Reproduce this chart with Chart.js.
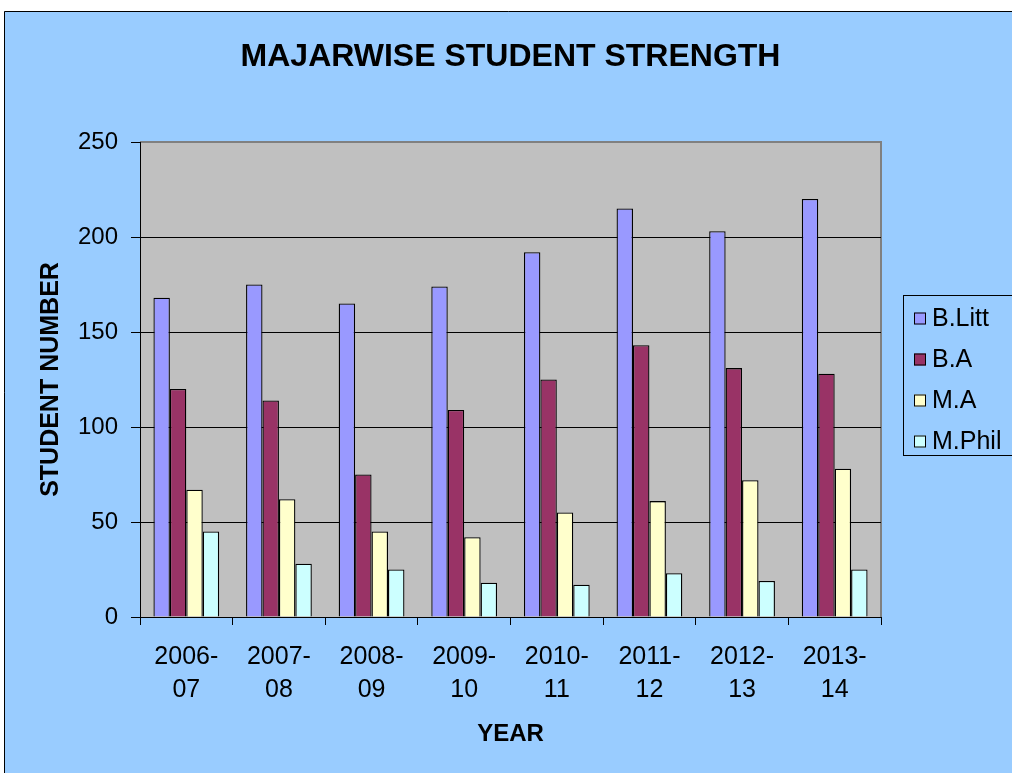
<!DOCTYPE html>
<html>
<head>
<meta charset="utf-8">
<script src="https://cdn.jsdelivr.net/npm/chart.js@4.4.1/dist/chart.umd.min.js"></script>
<style>
  html, body { margin: 0; padding: 0; background: #ffffff; }
  #wrap { width: 1012px; height: 773px; }
</style>
</head>
<body>
<div id="wrap"><canvas id="c" width="1012" height="773"></canvas></div>
<script>
const years = ['2006-07', '2007-08', '2008-09', '2009-10', '2010-11', '2011-12', '2012-13', '2013-14'];
const seriesNames = ['B.Litt', 'B.A', 'M.A', 'M.Phil'];
const bLitt = [168, 175, 165, 174, 192, 215, 203, 220];
const bA = [120, 114, 75, 109, 125, 143, 131, 128];
const mA = [67, 62, 45, 42, 55, 61, 72, 78];
const mPhil = [45, 28, 25, 18, 17, 23, 19, 25];
const yTicks = [0, 50, 100, 150, 200, 250];

const colors = ['#9999FF', '#993366', '#FFFFCC', '#CCFFFF'];
const FONT = "'Liberation Sans', Arial, sans-serif";

const bgPlugin = {
  id: 'bg',
  beforeDraw(chart) {
    const ctx = chart.ctx;
    const ca = chart.chartArea;
    ctx.save();
    ctx.fillStyle = '#ffffff';
    ctx.fillRect(0, 0, chart.width, chart.height);
    ctx.fillStyle = '#99CCFF';
    ctx.fillRect(4, 11, chart.width - 4, chart.height - 11);
    ctx.strokeStyle = '#000000';
    ctx.lineWidth = 1;
    ctx.beginPath();
    ctx.moveTo(4.5, chart.height);
    ctx.lineTo(4.5, 11.5);
    ctx.lineTo(chart.width, 11.5);
    ctx.stroke();
    ctx.fillStyle = '#C0C0C0';
    ctx.fillRect(ca.left, ca.top, ca.right - ca.left, ca.bottom - ca.top);
    ctx.strokeStyle = '#808080';
    ctx.lineWidth = 2;
    ctx.beginPath();
    ctx.moveTo(ca.left, ca.top);
    ctx.lineTo(ca.right, ca.top);
    ctx.lineTo(ca.right, ca.bottom);
    ctx.stroke();
    ctx.restore();
  }
};

const legendPlugin = {
  id: 'customLegend',
  afterDraw(chart) {
    const ctx = chart.ctx;
    ctx.save();
    ctx.strokeStyle = '#000000';
    ctx.lineWidth = 1;
    ctx.strokeRect(903.5, 295.5, 160, 160);
    ctx.font = '25px ' + FONT;
    ctx.textBaseline = 'middle';
    ctx.textAlign = 'left';
    chart.data.datasets.forEach((ds, i) => {
      const y = 318 + i * 41;
      ctx.fillStyle = ds.backgroundColor;
      ctx.fillRect(914, y - 5.5, 12, 12);
      ctx.strokeStyle = '#000000';
      ctx.strokeRect(914.5, y - 5, 11, 11);
      ctx.fillStyle = '#000000';
      ctx.fillText(ds.label, 932, y + 1);
    });
    ctx.restore();
  }
};

const seriesData = [bLitt, bA, mA, mPhil];

new Chart(document.getElementById('c'), {
  type: 'bar',
  data: {
    labels: years.map(y => { const p = y.split('-'); return [p[0] + '-', p[1]]; }),
    datasets: seriesNames.map((name, i) => ({
      label: name,
      data: seriesData[i],
      backgroundColor: colors[i],
      borderColor: '#000000',
      borderWidth: 1.3,
      categoryPercentage: 0.71,
      barPercentage: 1.0
    }))
  },
  options: {
    responsive: false,
    animation: false,
    layout: { padding: { left: 0, right: 131, top: 0, bottom: 0 } },
    plugins: {
      legend: { display: false },
      tooltip: { enabled: false },
      title: {
        display: true,
        text: 'MAJARWISE STUDENT STRENGTH',
        fullSize: false,
        color: '#000000',
        font: { family: FONT, size: 32, weight: 'bold' },
        padding: { top: 38, bottom: 65.6 }
      }
    },
    scales: {
      x: {
        offset: true,
        grid: { offset: true, drawOnChartArea: false, drawTicks: true, tickLength: 8, color: '#000000' },
        border: { color: '#000000', width: 1 },
        ticks: {
          color: '#000000',
          font: { family: FONT, size: 25, lineHeight: 1.3 },
          padding: 16,
          maxRotation: 0,
          autoSkip: false
        },
        title: {
          display: true,
          text: 'YEAR',
          color: '#000000',
          font: { family: FONT, size: 24, weight: 'bold' },
          padding: { top: 0, bottom: 24 }
        },
        afterFit(scale) { scale.height = 156; }
      },
      y: {
        min: 0,
        max: 250,
        afterBuildTicks(scale) { scale.ticks = yTicks.map(v => ({ value: v })); },
        grid: {
          color: ctx => (ctx.tick && ctx.tick.value === 250) ? 'rgba(0,0,0,0)' : '#000000',
          tickColor: '#000000',
          tickLength: 9,
          lineWidth: 1
        },
        border: { color: '#000000', width: 1 },
        ticks: {
          color: '#000000',
          font: { family: FONT, size: 24 },
          padding: 13
        },
        title: {
          display: true,
          text: 'STUDENT NUMBER',
          color: '#000000',
          font: { family: FONT, size: 25, weight: 'bold' },
          padding: { top: 36, bottom: 0 }
        },
        afterFit(scale) { scale.width = 140; }
      }
    }
  },
  plugins: [bgPlugin, legendPlugin]
});
</script>
</body>
</html>
